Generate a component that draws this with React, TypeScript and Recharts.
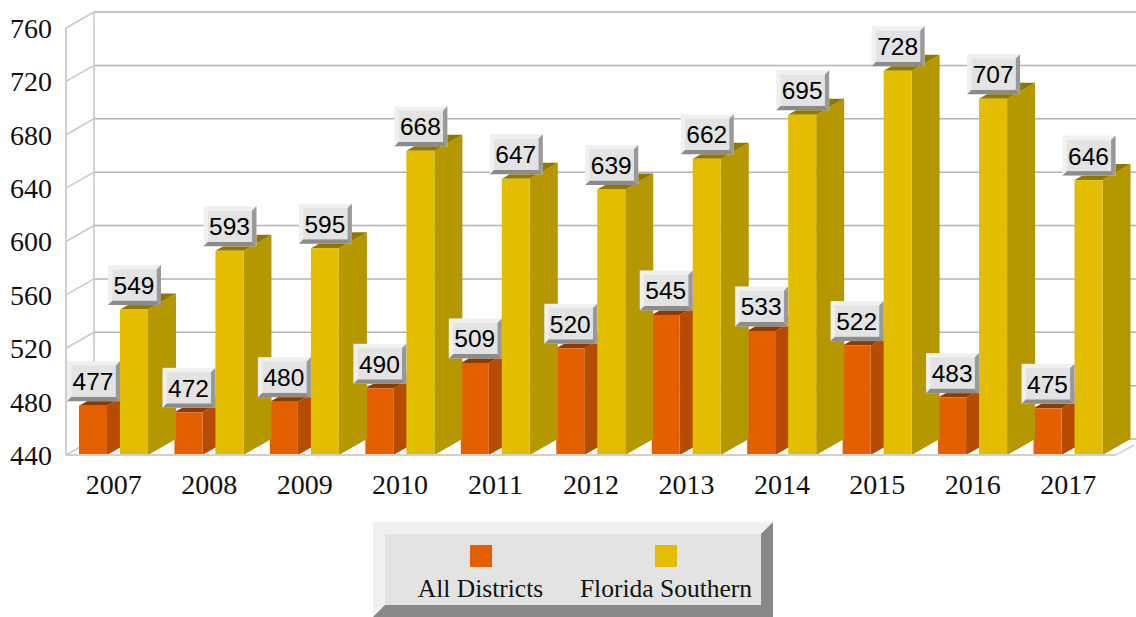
import { BarChart, Bar, XAxis, YAxis, CartesianGrid, LabelList, Legend } from "recharts"

const years = ["2007", "2008", "2009", "2010", "2011", "2012", "2013", "2014", "2015", "2016", "2017"]
const allDistricts = [477, 472, 480, 490, 509, 520, 545, 533, 522, 483, 475]
const floridaSouthern = [549, 593, 595, 668, 647, 639, 662, 695, 728, 707, 646]
const yTicks = [440, 480, 520, 560, 600, 640, 680, 720, 760]

const chartData = years.map((year, i) => ({
  year,
  all: allDistricts[i],
  south: floridaSouthern[i],
}))

const DEPTH_X = 28
const DEPTH_Y = 16
const PLOT_BOTTOM = 455
const STEP = 53.33
const SERIF = '"Liberation Serif", serif'
const SANS = '"Liberation Sans", sans-serif'

function bar3d(front: string, side: string, top: string) {
  return function Bar3d(props: any) {
    const { x, y, width, height } = props
    return (
      <g>
        <polygon
          points={`${x + width},${y} ${x + width + DEPTH_X},${y - DEPTH_Y} ${x + width + DEPTH_X},${y + height - DEPTH_Y} ${x + width},${y + height}`}
          fill={side}
        />
        <polygon
          points={`${x},${y} ${x + DEPTH_X},${y - DEPTH_Y} ${x + width + DEPTH_X},${y - DEPTH_Y} ${x + width},${y}`}
          fill={top}
        />
        <rect x={x} y={y} width={width} height={height} fill={front} />
      </g>
    )
  }
}

function ValueBox(props: any) {
  const { x, y, width, value } = props
  const w = 53
  const h = 40
  const l = x + width / 2 - w / 2 + 0.5
  const t = y - 4.5 - h
  const r = l + w
  const b = t + h
  const bevel = 4.5
  return (
    <g>
      <rect x={l} y={t} width={w} height={h} fill="#f0f0f0" />
      <polygon points={`${r},${t} ${r},${b} ${r - bevel},${b - bevel} ${r - bevel},${t + bevel}`} fill="#999999" />
      <polygon points={`${l},${b} ${r},${b} ${r - bevel},${b - bevel} ${l + bevel},${b - bevel}`} fill="#8c8c8c" />
      <rect x={l + bevel} y={t + bevel} width={w - 2 * bevel} height={h - 2 * bevel} fill="#e3e3e3" />
      <text x={l + w / 2 - 0.5} y={t + h / 2 + 0.5} textAnchor="middle" dominantBaseline="central" fontFamily={SANS} fontSize={24.5} fill="#000">
        {value}
      </text>
    </g>
  )
}

function gridLine(props: any) {
  const { x1, x2, y1, key } = props
  const backY = y1 - DEPTH_Y
  const isFloor = Math.abs(y1 - PLOT_BOTTOM) < 1
  return (
    <g key={key}>
      <line x1={x1} y1={y1} x2={x1 + DEPTH_X} y2={backY} stroke="#c9c9c9" strokeWidth={1.5} />
      <line x1={x1 + DEPTH_X} y1={backY} x2={1136} y2={backY} stroke="#b4b4b4" strokeWidth={1.5} />
      {!isFloor && <line x1={x1 + DEPTH_X} y1={backY} x2={x1 + DEPTH_X} y2={backY + STEP} stroke="#c4c4c4" strokeWidth={1.5} />}
      {isFloor && <line x1={x2} y1={y1} x2={x2 + 18} y2={y1 - 10} stroke="#d4d4d4" strokeWidth={1.5} />}
    </g>
  )
}

function LegendBox({ payload }: any) {
  const items = (payload || []).filter((p: any) => p.type !== "none")
  const widths = [191, 180]
  return (
    <div
      style={{
        boxSizing: "border-box",
        width: 400,
        height: 95,
        borderStyle: "solid",
        borderWidth: 12,
        borderColor: "#f0f0f0 #888888 #888888 #f0f0f0",
        background: "#e3e3e3",
        display: "flex",
        fontFamily: SERIF,
        fontSize: 25.5,
        color: "#111",
      }}
    >
      {items.map((item: any, i: number) => (
        <div key={item.value} style={{ width: widths[i], display: "flex", flexDirection: "column", alignItems: "center" }}>
          <div style={{ width: 22, height: 22, marginTop: 11, background: item.color }} />
          <div style={{ marginTop: 7, whiteSpace: "nowrap" }}>{item.value}</div>
        </div>
      ))}
    </div>
  )
}

export default function App() {
  return (
    <div style={{ position: "absolute", left: 0, top: 0, width: 1136, height: 617, background: "#fff" }}>
      <BarChart
        width={1136}
        height={617}
        data={chartData}
        barSize={28}
        barGap={13}
        margin={{ top: 28, right: 20, bottom: 0, left: 0 }}
      >
        <CartesianGrid horizontal={gridLine} vertical={false} />
        <XAxis
          dataKey="year"
          axisLine={{ stroke: "#d0d0d0", strokeWidth: 2 }}
          tickLine={false}
          height={67}
          tickMargin={13}
          interval={0}
          tick={{ fontFamily: SERIF, fontSize: 28, fill: "#111" }}
        />
        <YAxis
          domain={[440, 760]}
          ticks={yTicks}
          interval={0}
          width={66}
          axisLine={{ stroke: "#cfcfcf", strokeWidth: 2 }}
          tickLine={false}
          tickMargin={8}
          tick={{ fontFamily: SERIF, fontSize: 28, fill: "#111" }}
        />
        <XAxis xAxisId="labels" dataKey="year" hide />
        <YAxis yAxisId="labels" domain={[440, 760]} hide />
        <Bar dataKey="all" name="All Districts" fill="#e35f00" shape={bar3d("#e35f00", "#b54c00", "#8a3b00")} isAnimationActive={false} />
        <Bar dataKey="south" name="Florida Southern" fill="#e3bd00" shape={bar3d("#e3bd00", "#b59700", "#8f7700")} isAnimationActive={false} />
        <Bar xAxisId="labels" yAxisId="labels" dataKey="all" fill="transparent" legendType="none" isAnimationActive={false}>
          <LabelList dataKey="all" content={ValueBox} />
        </Bar>
        <Bar xAxisId="labels" yAxisId="labels" dataKey="south" fill="transparent" legendType="none" isAnimationActive={false}>
          <LabelList dataKey="south" content={ValueBox} />
        </Bar>
        <Legend content={LegendBox} wrapperStyle={{ left: 373, bottom: 0, width: 400, height: 95 }} />
      </BarChart>
    </div>
  )
}
